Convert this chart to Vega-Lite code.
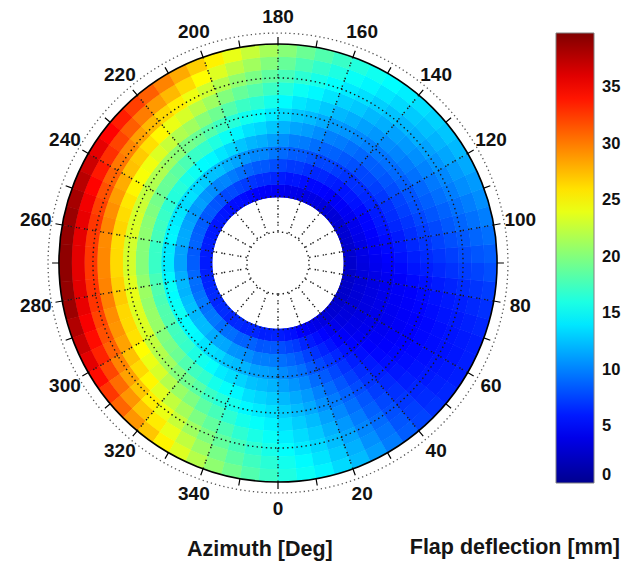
{
  "$schema": "https://vega.github.io/schema/vega-lite/v6.json",
  "width": 556,
  "height": 526,
  "autosize": {"type": "none"},
  "padding": {"left": 0, "top": 0, "right": 76, "bottom": 37},
  "background": "white",
  "title": {"text": "Azimuth [Deg]", "orient": "top", "anchor": "start", "frame": "group", "dx": 187, "offset": -577, "baseline": "alphabetic", "font": "Liberation Sans", "fontSize": 21.5, "fontWeight": "bold", "color": "#151515"},
  "resolve": {"scale": {"theta": "shared", "radius": "shared"}},
  "datasets": {
    "cells": [
{"a":2.5,"r":39.5,"v":6.0},{"a":2.5,"r":46.5,"v":8.0},{"a":2.5,"r":53.5,"v":9.3},{"a":2.5,"r":60.5,"v":10.4},{"a":2.5,"r":67.5,"v":11.3},{"a":2.5,"r":74.5,"v":12.2},{"a":2.5,"r":81.5,"v":13.0},{"a":2.5,"r":88.5,"v":13.7},{"a":2.5,"r":95.5,"v":14.3},{"a":2.5,"r":102.5,"v":15.0},{"a":2.5,"r":109.5,"v":15.6},{"a":2.5,"r":116.5,"v":16.1},
{"a":7.5,"r":39.5,"v":5.7},{"a":7.5,"r":46.5,"v":7.6},{"a":7.5,"r":53.5,"v":8.9},{"a":7.5,"r":60.5,"v":9.9},{"a":7.5,"r":67.5,"v":10.8},{"a":7.5,"r":74.5,"v":11.6},{"a":7.5,"r":81.5,"v":12.3},{"a":7.5,"r":88.5,"v":13.0},{"a":7.5,"r":95.5,"v":13.6},{"a":7.5,"r":102.5,"v":14.2},{"a":7.5,"r":109.5,"v":14.8},{"a":7.5,"r":116.5,"v":15.3},
{"a":12.5,"r":39.5,"v":5.5},{"a":12.5,"r":46.5,"v":7.2},{"a":12.5,"r":53.5,"v":8.4},{"a":12.5,"r":60.5,"v":9.4},{"a":12.5,"r":67.5,"v":10.2},{"a":12.5,"r":74.5,"v":11.0},{"a":12.5,"r":81.5,"v":11.6},{"a":12.5,"r":88.5,"v":12.3},{"a":12.5,"r":95.5,"v":12.9},{"a":12.5,"r":102.5,"v":13.4},{"a":12.5,"r":109.5,"v":13.9},{"a":12.5,"r":116.5,"v":14.5},
{"a":17.5,"r":39.5,"v":4.9},{"a":17.5,"r":46.5,"v":6.4},{"a":17.5,"r":53.5,"v":7.5},{"a":17.5,"r":60.5,"v":8.4},{"a":17.5,"r":67.5,"v":9.2},{"a":17.5,"r":74.5,"v":10.0},{"a":17.5,"r":81.5,"v":10.6},{"a":17.5,"r":88.5,"v":11.3},{"a":17.5,"r":95.5,"v":11.9},{"a":17.5,"r":102.5,"v":12.4},{"a":17.5,"r":109.5,"v":12.9},{"a":17.5,"r":116.5,"v":13.5},
{"a":22.5,"r":39.5,"v":4.6},{"a":22.5,"r":46.5,"v":6.0},{"a":22.5,"r":53.5,"v":6.9},{"a":22.5,"r":60.5,"v":7.8},{"a":22.5,"r":67.5,"v":8.5},{"a":22.5,"r":74.5,"v":9.2},{"a":22.5,"r":81.5,"v":9.8},{"a":22.5,"r":88.5,"v":10.3},{"a":22.5,"r":95.5,"v":10.9},{"a":22.5,"r":102.5,"v":11.4},{"a":22.5,"r":109.5,"v":11.9},{"a":22.5,"r":116.5,"v":12.3},
{"a":27.5,"r":39.5,"v":4.2},{"a":27.5,"r":46.5,"v":5.5},{"a":27.5,"r":53.5,"v":6.3},{"a":27.5,"r":60.5,"v":7.1},{"a":27.5,"r":67.5,"v":7.7},{"a":27.5,"r":74.5,"v":8.3},{"a":27.5,"r":81.5,"v":8.8},{"a":27.5,"r":88.5,"v":9.3},{"a":27.5,"r":95.5,"v":9.8},{"a":27.5,"r":102.5,"v":10.2},{"a":27.5,"r":109.5,"v":10.6},{"a":27.5,"r":116.5,"v":11.1},
{"a":32.5,"r":39.5,"v":3.9},{"a":32.5,"r":46.5,"v":5.0},{"a":32.5,"r":53.5,"v":5.7},{"a":32.5,"r":60.5,"v":6.4},{"a":32.5,"r":67.5,"v":6.9},{"a":32.5,"r":74.5,"v":7.4},{"a":32.5,"r":81.5,"v":7.9},{"a":32.5,"r":88.5,"v":8.3},{"a":32.5,"r":95.5,"v":8.7},{"a":32.5,"r":102.5,"v":9.1},{"a":32.5,"r":109.5,"v":9.5},{"a":32.5,"r":116.5,"v":9.8},
{"a":37.5,"r":39.5,"v":3.6},{"a":37.5,"r":46.5,"v":4.5},{"a":37.5,"r":53.5,"v":5.1},{"a":37.5,"r":60.5,"v":5.7},{"a":37.5,"r":67.5,"v":6.1},{"a":37.5,"r":74.5,"v":6.6},{"a":37.5,"r":81.5,"v":7.0},{"a":37.5,"r":88.5,"v":7.3},{"a":37.5,"r":95.5,"v":7.7},{"a":37.5,"r":102.5,"v":8.0},{"a":37.5,"r":109.5,"v":8.3},{"a":37.5,"r":116.5,"v":8.6},
{"a":42.5,"r":39.5,"v":3.3},{"a":42.5,"r":46.5,"v":4.1},{"a":42.5,"r":53.5,"v":4.7},{"a":42.5,"r":60.5,"v":5.1},{"a":42.5,"r":67.5,"v":5.5},{"a":42.5,"r":74.5,"v":5.9},{"a":42.5,"r":81.5,"v":6.2},{"a":42.5,"r":88.5,"v":6.5},{"a":42.5,"r":95.5,"v":6.8},{"a":42.5,"r":102.5,"v":7.1},{"a":42.5,"r":109.5,"v":7.4},{"a":42.5,"r":116.5,"v":7.6},
{"a":47.5,"r":39.5,"v":3.0},{"a":47.5,"r":46.5,"v":3.6},{"a":47.5,"r":53.5,"v":4.1},{"a":47.5,"r":60.5,"v":4.5},{"a":47.5,"r":67.5,"v":4.9},{"a":47.5,"r":74.5,"v":5.2},{"a":47.5,"r":81.5,"v":5.5},{"a":47.5,"r":88.5,"v":5.8},{"a":47.5,"r":95.5,"v":6.1},{"a":47.5,"r":102.5,"v":6.4},{"a":47.5,"r":109.5,"v":6.6},{"a":47.5,"r":116.5,"v":6.9},
{"a":52.5,"r":39.5,"v":2.9},{"a":52.5,"r":46.5,"v":3.4},{"a":52.5,"r":53.5,"v":3.9},{"a":52.5,"r":60.5,"v":4.2},{"a":52.5,"r":67.5,"v":4.6},{"a":52.5,"r":74.5,"v":4.9},{"a":52.5,"r":81.5,"v":5.2},{"a":52.5,"r":88.5,"v":5.4},{"a":52.5,"r":95.5,"v":5.7},{"a":52.5,"r":102.5,"v":5.9},{"a":52.5,"r":109.5,"v":6.2},{"a":52.5,"r":116.5,"v":6.4},
{"a":57.5,"r":39.5,"v":2.7},{"a":57.5,"r":46.5,"v":3.3},{"a":57.5,"r":53.5,"v":3.7},{"a":57.5,"r":60.5,"v":4.1},{"a":57.5,"r":67.5,"v":4.4},{"a":57.5,"r":74.5,"v":4.7},{"a":57.5,"r":81.5,"v":5.0},{"a":57.5,"r":88.5,"v":5.2},{"a":57.5,"r":95.5,"v":5.5},{"a":57.5,"r":102.5,"v":5.7},{"a":57.5,"r":109.5,"v":5.9},{"a":57.5,"r":116.5,"v":6.1},
{"a":62.5,"r":39.5,"v":2.7},{"a":62.5,"r":46.5,"v":3.2},{"a":62.5,"r":53.5,"v":3.7},{"a":62.5,"r":60.5,"v":4.0},{"a":62.5,"r":67.5,"v":4.3},{"a":62.5,"r":74.5,"v":4.6},{"a":62.5,"r":81.5,"v":4.9},{"a":62.5,"r":88.5,"v":5.2},{"a":62.5,"r":95.5,"v":5.4},{"a":62.5,"r":102.5,"v":5.6},{"a":62.5,"r":109.5,"v":5.8},{"a":62.5,"r":116.5,"v":6.1},
{"a":67.5,"r":39.5,"v":2.6},{"a":67.5,"r":46.5,"v":3.2},{"a":67.5,"r":53.5,"v":3.7},{"a":67.5,"r":60.5,"v":4.0},{"a":67.5,"r":67.5,"v":4.4},{"a":67.5,"r":74.5,"v":4.7},{"a":67.5,"r":81.5,"v":4.9},{"a":67.5,"r":88.5,"v":5.2},{"a":67.5,"r":95.5,"v":5.5},{"a":67.5,"r":102.5,"v":5.7},{"a":67.5,"r":109.5,"v":5.9},{"a":67.5,"r":116.5,"v":6.1},
{"a":72.5,"r":39.5,"v":2.6},{"a":72.5,"r":46.5,"v":3.3},{"a":72.5,"r":53.5,"v":3.7},{"a":72.5,"r":60.5,"v":4.1},{"a":72.5,"r":67.5,"v":4.5},{"a":72.5,"r":74.5,"v":4.8},{"a":72.5,"r":81.5,"v":5.1},{"a":72.5,"r":88.5,"v":5.4},{"a":72.5,"r":95.5,"v":5.7},{"a":72.5,"r":102.5,"v":5.9},{"a":72.5,"r":109.5,"v":6.2},{"a":72.5,"r":116.5,"v":6.4},
{"a":77.5,"r":39.5,"v":2.6},{"a":77.5,"r":46.5,"v":3.2},{"a":77.5,"r":53.5,"v":3.7},{"a":77.5,"r":60.5,"v":4.2},{"a":77.5,"r":67.5,"v":4.6},{"a":77.5,"r":74.5,"v":4.9},{"a":77.5,"r":81.5,"v":5.3},{"a":77.5,"r":88.5,"v":5.6},{"a":77.5,"r":95.5,"v":5.9},{"a":77.5,"r":102.5,"v":6.2},{"a":77.5,"r":109.5,"v":6.5},{"a":77.5,"r":116.5,"v":6.8},
{"a":82.5,"r":39.5,"v":2.6},{"a":82.5,"r":46.5,"v":3.4},{"a":82.5,"r":53.5,"v":3.9},{"a":82.5,"r":60.5,"v":4.4},{"a":82.5,"r":67.5,"v":4.8},{"a":82.5,"r":74.5,"v":5.3},{"a":82.5,"r":81.5,"v":5.6},{"a":82.5,"r":88.5,"v":6.0},{"a":82.5,"r":95.5,"v":6.3},{"a":82.5,"r":102.5,"v":6.7},{"a":82.5,"r":109.5,"v":7.0},{"a":82.5,"r":116.5,"v":7.3},
{"a":87.5,"r":39.5,"v":2.7},{"a":87.5,"r":46.5,"v":3.5},{"a":87.5,"r":53.5,"v":4.2},{"a":87.5,"r":60.5,"v":4.7},{"a":87.5,"r":67.5,"v":5.2},{"a":87.5,"r":74.5,"v":5.7},{"a":87.5,"r":81.5,"v":6.1},{"a":87.5,"r":88.5,"v":6.5},{"a":87.5,"r":95.5,"v":6.9},{"a":87.5,"r":102.5,"v":7.3},{"a":87.5,"r":109.5,"v":7.6},{"a":87.5,"r":116.5,"v":8.0},
{"a":92.5,"r":39.5,"v":2.8},{"a":92.5,"r":46.5,"v":3.7},{"a":92.5,"r":53.5,"v":4.4},{"a":92.5,"r":60.5,"v":5.0},{"a":92.5,"r":67.5,"v":5.6},{"a":92.5,"r":74.5,"v":6.1},{"a":92.5,"r":81.5,"v":6.6},{"a":92.5,"r":88.5,"v":7.0},{"a":92.5,"r":95.5,"v":7.4},{"a":92.5,"r":102.5,"v":7.9},{"a":92.5,"r":109.5,"v":8.3},{"a":92.5,"r":116.5,"v":8.6},
{"a":97.5,"r":39.5,"v":2.9},{"a":97.5,"r":46.5,"v":3.9},{"a":97.5,"r":53.5,"v":4.7},{"a":97.5,"r":60.5,"v":5.3},{"a":97.5,"r":67.5,"v":5.9},{"a":97.5,"r":74.5,"v":6.5},{"a":97.5,"r":81.5,"v":7.0},{"a":97.5,"r":88.5,"v":7.5},{"a":97.5,"r":95.5,"v":8.0},{"a":97.5,"r":102.5,"v":8.4},{"a":97.5,"r":109.5,"v":8.9},{"a":97.5,"r":116.5,"v":9.3},
{"a":102.5,"r":39.5,"v":2.8},{"a":102.5,"r":46.5,"v":3.8},{"a":102.5,"r":53.5,"v":4.7},{"a":102.5,"r":60.5,"v":5.4},{"a":102.5,"r":67.5,"v":6.0},{"a":102.5,"r":74.5,"v":6.7},{"a":102.5,"r":81.5,"v":7.3},{"a":102.5,"r":88.5,"v":7.8},{"a":102.5,"r":95.5,"v":8.4},{"a":102.5,"r":102.5,"v":8.9},{"a":102.5,"r":109.5,"v":9.4},{"a":102.5,"r":116.5,"v":9.9},
{"a":107.5,"r":39.5,"v":2.9},{"a":107.5,"r":46.5,"v":4.0},{"a":107.5,"r":53.5,"v":4.9},{"a":107.5,"r":60.5,"v":5.7},{"a":107.5,"r":67.5,"v":6.4},{"a":107.5,"r":74.5,"v":7.0},{"a":107.5,"r":81.5,"v":7.7},{"a":107.5,"r":88.5,"v":8.3},{"a":107.5,"r":95.5,"v":8.8},{"a":107.5,"r":102.5,"v":9.4},{"a":107.5,"r":109.5,"v":9.9},{"a":107.5,"r":116.5,"v":10.5},
{"a":112.5,"r":39.5,"v":3.0},{"a":112.5,"r":46.5,"v":4.2},{"a":112.5,"r":53.5,"v":5.1},{"a":112.5,"r":60.5,"v":5.9},{"a":112.5,"r":67.5,"v":6.7},{"a":112.5,"r":74.5,"v":7.4},{"a":112.5,"r":81.5,"v":8.1},{"a":112.5,"r":88.5,"v":8.7},{"a":112.5,"r":95.5,"v":9.3},{"a":112.5,"r":102.5,"v":9.9},{"a":112.5,"r":109.5,"v":10.5},{"a":112.5,"r":116.5,"v":11.0},
{"a":117.5,"r":39.5,"v":3.0},{"a":117.5,"r":46.5,"v":4.2},{"a":117.5,"r":53.5,"v":5.1},{"a":117.5,"r":60.5,"v":6.0},{"a":117.5,"r":67.5,"v":6.8},{"a":117.5,"r":74.5,"v":7.6},{"a":117.5,"r":81.5,"v":8.3},{"a":117.5,"r":88.5,"v":9.0},{"a":117.5,"r":95.5,"v":9.7},{"a":117.5,"r":102.5,"v":10.3},{"a":117.5,"r":109.5,"v":11.0},{"a":117.5,"r":116.5,"v":11.6},
{"a":122.5,"r":39.5,"v":3.1},{"a":122.5,"r":46.5,"v":4.3},{"a":122.5,"r":53.5,"v":5.3},{"a":122.5,"r":60.5,"v":6.3},{"a":122.5,"r":67.5,"v":7.1},{"a":122.5,"r":74.5,"v":7.9},{"a":122.5,"r":81.5,"v":8.7},{"a":122.5,"r":88.5,"v":9.4},{"a":122.5,"r":95.5,"v":10.1},{"a":122.5,"r":102.5,"v":10.8},{"a":122.5,"r":109.5,"v":11.5},{"a":122.5,"r":116.5,"v":12.2},
{"a":127.5,"r":39.5,"v":3.2},{"a":127.5,"r":46.5,"v":4.5},{"a":127.5,"r":53.5,"v":5.6},{"a":127.5,"r":60.5,"v":6.5},{"a":127.5,"r":67.5,"v":7.4},{"a":127.5,"r":74.5,"v":8.3},{"a":127.5,"r":81.5,"v":9.1},{"a":127.5,"r":88.5,"v":9.8},{"a":127.5,"r":95.5,"v":10.6},{"a":127.5,"r":102.5,"v":11.3},{"a":127.5,"r":109.5,"v":12.0},{"a":127.5,"r":116.5,"v":12.7},
{"a":132.5,"r":39.5,"v":3.3},{"a":132.5,"r":46.5,"v":4.7},{"a":132.5,"r":53.5,"v":5.8},{"a":132.5,"r":60.5,"v":6.8},{"a":132.5,"r":67.5,"v":7.7},{"a":132.5,"r":74.5,"v":8.6},{"a":132.5,"r":81.5,"v":9.4},{"a":132.5,"r":88.5,"v":10.2},{"a":132.5,"r":95.5,"v":11.0},{"a":132.5,"r":102.5,"v":11.8},{"a":132.5,"r":109.5,"v":12.5},{"a":132.5,"r":116.5,"v":13.2},
{"a":137.5,"r":39.5,"v":3.3},{"a":137.5,"r":46.5,"v":4.6},{"a":137.5,"r":53.5,"v":5.7},{"a":137.5,"r":60.5,"v":6.8},{"a":137.5,"r":67.5,"v":7.7},{"a":137.5,"r":74.5,"v":8.7},{"a":137.5,"r":81.5,"v":9.6},{"a":137.5,"r":88.5,"v":10.5},{"a":137.5,"r":95.5,"v":11.3},{"a":137.5,"r":102.5,"v":12.1},{"a":137.5,"r":109.5,"v":12.9},{"a":137.5,"r":116.5,"v":13.7},
{"a":142.5,"r":39.5,"v":3.5},{"a":142.5,"r":46.5,"v":4.8},{"a":142.5,"r":53.5,"v":6.0},{"a":142.5,"r":60.5,"v":7.0},{"a":142.5,"r":67.5,"v":8.1},{"a":142.5,"r":74.5,"v":9.0},{"a":142.5,"r":81.5,"v":10.0},{"a":142.5,"r":88.5,"v":10.9},{"a":142.5,"r":95.5,"v":11.8},{"a":142.5,"r":102.5,"v":12.6},{"a":142.5,"r":109.5,"v":13.5},{"a":142.5,"r":116.5,"v":14.3},
{"a":147.5,"r":39.5,"v":3.6},{"a":147.5,"r":46.5,"v":5.0},{"a":147.5,"r":53.5,"v":6.2},{"a":147.5,"r":60.5,"v":7.3},{"a":147.5,"r":67.5,"v":8.4},{"a":147.5,"r":74.5,"v":9.4},{"a":147.5,"r":81.5,"v":10.4},{"a":147.5,"r":88.5,"v":11.3},{"a":147.5,"r":95.5,"v":12.2},{"a":147.5,"r":102.5,"v":13.1},{"a":147.5,"r":109.5,"v":14.0},{"a":147.5,"r":116.5,"v":14.9},
{"a":152.5,"r":39.5,"v":3.8},{"a":152.5,"r":46.5,"v":5.2},{"a":152.5,"r":53.5,"v":6.5},{"a":152.5,"r":60.5,"v":7.7},{"a":152.5,"r":67.5,"v":8.8},{"a":152.5,"r":74.5,"v":9.8},{"a":152.5,"r":81.5,"v":10.8},{"a":152.5,"r":88.5,"v":11.8},{"a":152.5,"r":95.5,"v":12.8},{"a":152.5,"r":102.5,"v":13.7},{"a":152.5,"r":109.5,"v":14.6},{"a":152.5,"r":116.5,"v":15.5},
{"a":157.5,"r":39.5,"v":3.8},{"a":157.5,"r":46.5,"v":5.2},{"a":157.5,"r":53.5,"v":6.5},{"a":157.5,"r":60.5,"v":7.7},{"a":157.5,"r":67.5,"v":8.9},{"a":157.5,"r":74.5,"v":10.0},{"a":157.5,"r":81.5,"v":11.1},{"a":157.5,"r":88.5,"v":12.2},{"a":157.5,"r":95.5,"v":13.2},{"a":157.5,"r":102.5,"v":14.2},{"a":157.5,"r":109.5,"v":15.2},{"a":157.5,"r":116.5,"v":16.2},
{"a":162.5,"r":39.5,"v":3.9},{"a":162.5,"r":46.5,"v":5.5},{"a":162.5,"r":53.5,"v":6.8},{"a":162.5,"r":60.5,"v":8.1},{"a":162.5,"r":67.5,"v":9.3},{"a":162.5,"r":74.5,"v":10.5},{"a":162.5,"r":81.5,"v":11.7},{"a":162.5,"r":88.5,"v":12.8},{"a":162.5,"r":95.5,"v":13.9},{"a":162.5,"r":102.5,"v":15.0},{"a":162.5,"r":109.5,"v":16.0},{"a":162.5,"r":116.5,"v":17.1},
{"a":167.5,"r":39.5,"v":4.1},{"a":167.5,"r":46.5,"v":5.8},{"a":167.5,"r":53.5,"v":7.2},{"a":167.5,"r":60.5,"v":8.5},{"a":167.5,"r":67.5,"v":9.8},{"a":167.5,"r":74.5,"v":11.1},{"a":167.5,"r":81.5,"v":12.3},{"a":167.5,"r":88.5,"v":13.5},{"a":167.5,"r":95.5,"v":14.7},{"a":167.5,"r":102.5,"v":15.8},{"a":167.5,"r":109.5,"v":16.9},{"a":167.5,"r":116.5,"v":18.1},
{"a":172.5,"r":39.5,"v":4.1},{"a":172.5,"r":46.5,"v":5.7},{"a":172.5,"r":53.5,"v":7.2},{"a":172.5,"r":60.5,"v":8.6},{"a":172.5,"r":67.5,"v":10.0},{"a":172.5,"r":74.5,"v":11.4},{"a":172.5,"r":81.5,"v":12.7},{"a":172.5,"r":88.5,"v":14.0},{"a":172.5,"r":95.5,"v":15.3},{"a":172.5,"r":102.5,"v":16.6},{"a":172.5,"r":109.5,"v":17.8},{"a":172.5,"r":116.5,"v":19.1},
{"a":177.5,"r":39.5,"v":4.3},{"a":177.5,"r":46.5,"v":6.0},{"a":177.5,"r":53.5,"v":7.6},{"a":177.5,"r":60.5,"v":9.1},{"a":177.5,"r":67.5,"v":10.6},{"a":177.5,"r":74.5,"v":12.0},{"a":177.5,"r":81.5,"v":13.5},{"a":177.5,"r":88.5,"v":14.8},{"a":177.5,"r":95.5,"v":16.2},{"a":177.5,"r":102.5,"v":17.6},{"a":177.5,"r":109.5,"v":18.9},{"a":177.5,"r":116.5,"v":20.2},
{"a":182.5,"r":39.5,"v":4.5},{"a":182.5,"r":46.5,"v":6.4},{"a":182.5,"r":53.5,"v":8.0},{"a":182.5,"r":60.5,"v":9.6},{"a":182.5,"r":67.5,"v":11.2},{"a":182.5,"r":74.5,"v":12.7},{"a":182.5,"r":81.5,"v":14.2},{"a":182.5,"r":88.5,"v":15.7},{"a":182.5,"r":95.5,"v":17.2},{"a":182.5,"r":102.5,"v":18.6},{"a":182.5,"r":109.5,"v":20.0},{"a":182.5,"r":116.5,"v":21.4},
{"a":187.5,"r":39.5,"v":4.7},{"a":187.5,"r":46.5,"v":6.7},{"a":187.5,"r":53.5,"v":8.4},{"a":187.5,"r":60.5,"v":10.2},{"a":187.5,"r":67.5,"v":11.8},{"a":187.5,"r":74.5,"v":13.4},{"a":187.5,"r":81.5,"v":15.0},{"a":187.5,"r":88.5,"v":16.6},{"a":187.5,"r":95.5,"v":18.2},{"a":187.5,"r":102.5,"v":19.7},{"a":187.5,"r":109.5,"v":21.2},{"a":187.5,"r":116.5,"v":22.7},
{"a":192.5,"r":39.5,"v":4.8},{"a":192.5,"r":46.5,"v":6.7},{"a":192.5,"r":53.5,"v":8.5},{"a":192.5,"r":60.5,"v":10.3},{"a":192.5,"r":67.5,"v":12.1},{"a":192.5,"r":74.5,"v":13.8},{"a":192.5,"r":81.5,"v":15.5},{"a":192.5,"r":88.5,"v":17.2},{"a":192.5,"r":95.5,"v":18.9},{"a":192.5,"r":102.5,"v":20.6},{"a":192.5,"r":109.5,"v":22.3},{"a":192.5,"r":116.5,"v":24.0},
{"a":197.5,"r":39.5,"v":5.0},{"a":197.5,"r":46.5,"v":7.0},{"a":197.5,"r":53.5,"v":8.9},{"a":197.5,"r":60.5,"v":10.8},{"a":197.5,"r":67.5,"v":12.7},{"a":197.5,"r":74.5,"v":14.6},{"a":197.5,"r":81.5,"v":16.4},{"a":197.5,"r":88.5,"v":18.2},{"a":197.5,"r":95.5,"v":20.0},{"a":197.5,"r":102.5,"v":21.8},{"a":197.5,"r":109.5,"v":23.6},{"a":197.5,"r":116.5,"v":25.4},
{"a":202.5,"r":39.5,"v":5.2},{"a":202.5,"r":46.5,"v":7.3},{"a":202.5,"r":53.5,"v":9.3},{"a":202.5,"r":60.5,"v":11.4},{"a":202.5,"r":67.5,"v":13.4},{"a":202.5,"r":74.5,"v":15.3},{"a":202.5,"r":81.5,"v":17.3},{"a":202.5,"r":88.5,"v":19.2},{"a":202.5,"r":95.5,"v":21.1},{"a":202.5,"r":102.5,"v":23.0},{"a":202.5,"r":109.5,"v":24.9},{"a":202.5,"r":116.5,"v":26.8},
{"a":207.5,"r":39.5,"v":5.4},{"a":207.5,"r":46.5,"v":7.6},{"a":207.5,"r":53.5,"v":9.8},{"a":207.5,"r":60.5,"v":11.9},{"a":207.5,"r":67.5,"v":14.0},{"a":207.5,"r":74.5,"v":16.1},{"a":207.5,"r":81.5,"v":18.2},{"a":207.5,"r":88.5,"v":20.2},{"a":207.5,"r":95.5,"v":22.2},{"a":207.5,"r":102.5,"v":24.2},{"a":207.5,"r":109.5,"v":26.3},{"a":207.5,"r":116.5,"v":28.2},
{"a":212.5,"r":39.5,"v":5.5},{"a":212.5,"r":46.5,"v":7.9},{"a":212.5,"r":53.5,"v":10.2},{"a":212.5,"r":60.5,"v":12.5},{"a":212.5,"r":67.5,"v":14.7},{"a":212.5,"r":74.5,"v":16.9},{"a":212.5,"r":81.5,"v":19.1},{"a":212.5,"r":88.5,"v":21.2},{"a":212.5,"r":95.5,"v":23.3},{"a":212.5,"r":102.5,"v":25.5},{"a":212.5,"r":109.5,"v":27.6},{"a":212.5,"r":116.5,"v":29.7},
{"a":217.5,"r":39.5,"v":5.5},{"a":217.5,"r":46.5,"v":7.8},{"a":217.5,"r":53.5,"v":10.1},{"a":217.5,"r":60.5,"v":12.5},{"a":217.5,"r":67.5,"v":14.8},{"a":217.5,"r":74.5,"v":17.1},{"a":217.5,"r":81.5,"v":19.5},{"a":217.5,"r":88.5,"v":21.8},{"a":217.5,"r":95.5,"v":24.1},{"a":217.5,"r":102.5,"v":26.4},{"a":217.5,"r":109.5,"v":28.8},{"a":217.5,"r":116.5,"v":31.1},
{"a":222.5,"r":39.5,"v":5.6},{"a":222.5,"r":46.5,"v":8.1},{"a":222.5,"r":53.5,"v":10.5},{"a":222.5,"r":60.5,"v":13.0},{"a":222.5,"r":67.5,"v":15.4},{"a":222.5,"r":74.5,"v":17.8},{"a":222.5,"r":81.5,"v":20.3},{"a":222.5,"r":88.5,"v":22.7},{"a":222.5,"r":95.5,"v":25.1},{"a":222.5,"r":102.5,"v":27.6},{"a":222.5,"r":109.5,"v":30.0},{"a":222.5,"r":116.5,"v":32.4},
{"a":227.5,"r":39.5,"v":5.8},{"a":227.5,"r":46.5,"v":8.3},{"a":227.5,"r":53.5,"v":10.8},{"a":227.5,"r":60.5,"v":13.4},{"a":227.5,"r":67.5,"v":15.9},{"a":227.5,"r":74.5,"v":18.5},{"a":227.5,"r":81.5,"v":21.0},{"a":227.5,"r":88.5,"v":23.5},{"a":227.5,"r":95.5,"v":26.1},{"a":227.5,"r":102.5,"v":28.6},{"a":227.5,"r":109.5,"v":31.2},{"a":227.5,"r":116.5,"v":33.7},
{"a":232.5,"r":39.5,"v":5.9},{"a":232.5,"r":46.5,"v":8.5},{"a":232.5,"r":53.5,"v":11.2},{"a":232.5,"r":60.5,"v":13.8},{"a":232.5,"r":67.5,"v":16.4},{"a":232.5,"r":74.5,"v":19.0},{"a":232.5,"r":81.5,"v":21.7},{"a":232.5,"r":88.5,"v":24.3},{"a":232.5,"r":95.5,"v":26.9},{"a":232.5,"r":102.5,"v":29.6},{"a":232.5,"r":109.5,"v":32.2},{"a":232.5,"r":116.5,"v":34.8},
{"a":237.5,"r":39.5,"v":5.8},{"a":237.5,"r":46.5,"v":8.4},{"a":237.5,"r":53.5,"v":11.0},{"a":237.5,"r":60.5,"v":13.6},{"a":237.5,"r":67.5,"v":16.3},{"a":237.5,"r":74.5,"v":19.0},{"a":237.5,"r":81.5,"v":21.8},{"a":237.5,"r":88.5,"v":24.6},{"a":237.5,"r":95.5,"v":27.3},{"a":237.5,"r":102.5,"v":30.2},{"a":237.5,"r":109.5,"v":33.0},{"a":237.5,"r":116.5,"v":35.8},
{"a":242.5,"r":39.5,"v":5.9},{"a":242.5,"r":46.5,"v":8.6},{"a":242.5,"r":53.5,"v":11.2},{"a":242.5,"r":60.5,"v":14.0},{"a":242.5,"r":67.5,"v":16.7},{"a":242.5,"r":74.5,"v":19.5},{"a":242.5,"r":81.5,"v":22.4},{"a":242.5,"r":88.5,"v":25.2},{"a":242.5,"r":95.5,"v":28.1},{"a":242.5,"r":102.5,"v":31.0},{"a":242.5,"r":109.5,"v":33.9},{"a":242.5,"r":116.5,"v":36.8},
{"a":247.5,"r":39.5,"v":6.0},{"a":247.5,"r":46.5,"v":8.7},{"a":247.5,"r":53.5,"v":11.4},{"a":247.5,"r":60.5,"v":14.2},{"a":247.5,"r":67.5,"v":17.1},{"a":247.5,"r":74.5,"v":19.9},{"a":247.5,"r":81.5,"v":22.9},{"a":247.5,"r":88.5,"v":25.8},{"a":247.5,"r":95.5,"v":28.7},{"a":247.5,"r":102.5,"v":31.7},{"a":247.5,"r":109.5,"v":34.7},{"a":247.5,"r":116.5,"v":37.6},
{"a":252.5,"r":39.5,"v":6.1},{"a":252.5,"r":46.5,"v":8.8},{"a":252.5,"r":53.5,"v":11.6},{"a":252.5,"r":60.5,"v":14.5},{"a":252.5,"r":67.5,"v":17.4},{"a":252.5,"r":74.5,"v":20.3},{"a":252.5,"r":81.5,"v":23.3},{"a":252.5,"r":88.5,"v":26.2},{"a":252.5,"r":95.5,"v":29.2},{"a":252.5,"r":102.5,"v":32.3},{"a":252.5,"r":109.5,"v":35.3},{"a":252.5,"r":116.5,"v":38.3},
{"a":257.5,"r":39.5,"v":6.1},{"a":257.5,"r":46.5,"v":8.9},{"a":257.5,"r":53.5,"v":11.7},{"a":257.5,"r":60.5,"v":14.6},{"a":257.5,"r":67.5,"v":17.6},{"a":257.5,"r":74.5,"v":20.5},{"a":257.5,"r":81.5,"v":23.5},{"a":257.5,"r":88.5,"v":26.5},{"a":257.5,"r":95.5,"v":29.6},{"a":257.5,"r":102.5,"v":32.7},{"a":257.5,"r":109.5,"v":35.7},{"a":257.5,"r":116.5,"v":38.8},
{"a":262.5,"r":39.5,"v":6.0},{"a":262.5,"r":46.5,"v":8.5},{"a":262.5,"r":53.5,"v":11.3},{"a":262.5,"r":60.5,"v":14.1},{"a":262.5,"r":67.5,"v":17.1},{"a":262.5,"r":74.5,"v":20.1},{"a":262.5,"r":81.5,"v":23.1},{"a":262.5,"r":88.5,"v":26.2},{"a":262.5,"r":95.5,"v":29.4},{"a":262.5,"r":102.5,"v":32.6},{"a":262.5,"r":109.5,"v":35.8},{"a":262.5,"r":116.5,"v":39.0},
{"a":267.5,"r":39.5,"v":6.0},{"a":267.5,"r":46.5,"v":8.6},{"a":267.5,"r":53.5,"v":11.3},{"a":267.5,"r":60.5,"v":14.2},{"a":267.5,"r":67.5,"v":17.1},{"a":267.5,"r":74.5,"v":20.1},{"a":267.5,"r":81.5,"v":23.2},{"a":267.5,"r":88.5,"v":26.3},{"a":267.5,"r":95.5,"v":29.5},{"a":267.5,"r":102.5,"v":32.7},{"a":267.5,"r":109.5,"v":35.9},{"a":267.5,"r":116.5,"v":39.2},
{"a":272.5,"r":39.5,"v":6.0},{"a":272.5,"r":46.5,"v":8.6},{"a":272.5,"r":53.5,"v":11.3},{"a":272.5,"r":60.5,"v":14.2},{"a":272.5,"r":67.5,"v":17.1},{"a":272.5,"r":74.5,"v":20.1},{"a":272.5,"r":81.5,"v":23.2},{"a":272.5,"r":88.5,"v":26.3},{"a":272.5,"r":95.5,"v":29.5},{"a":272.5,"r":102.5,"v":32.7},{"a":272.5,"r":109.5,"v":35.9},{"a":272.5,"r":116.5,"v":39.2},
{"a":277.5,"r":39.5,"v":6.2},{"a":277.5,"r":46.5,"v":9.0},{"a":277.5,"r":53.5,"v":11.8},{"a":277.5,"r":60.5,"v":14.7},{"a":277.5,"r":67.5,"v":17.7},{"a":277.5,"r":74.5,"v":20.6},{"a":277.5,"r":81.5,"v":23.7},{"a":277.5,"r":88.5,"v":26.7},{"a":277.5,"r":95.5,"v":29.7},{"a":277.5,"r":102.5,"v":32.9},{"a":277.5,"r":109.5,"v":35.9},{"a":277.5,"r":116.5,"v":39.0},
{"a":282.5,"r":39.5,"v":6.3},{"a":282.5,"r":46.5,"v":9.3},{"a":282.5,"r":53.5,"v":12.2},{"a":282.5,"r":60.5,"v":15.2},{"a":282.5,"r":67.5,"v":18.1},{"a":282.5,"r":74.5,"v":21.0},{"a":282.5,"r":81.5,"v":24.0},{"a":282.5,"r":88.5,"v":26.9},{"a":282.5,"r":95.5,"v":29.8},{"a":282.5,"r":102.5,"v":32.8},{"a":282.5,"r":109.5,"v":35.7},{"a":282.5,"r":116.5,"v":38.7},
{"a":287.5,"r":39.5,"v":6.3},{"a":287.5,"r":46.5,"v":9.2},{"a":287.5,"r":53.5,"v":12.0},{"a":287.5,"r":60.5,"v":14.9},{"a":287.5,"r":67.5,"v":17.8},{"a":287.5,"r":74.5,"v":20.7},{"a":287.5,"r":81.5,"v":23.6},{"a":287.5,"r":88.5,"v":26.4},{"a":287.5,"r":95.5,"v":29.3},{"a":287.5,"r":102.5,"v":32.2},{"a":287.5,"r":109.5,"v":35.1},{"a":287.5,"r":116.5,"v":37.9},
{"a":292.5,"r":39.5,"v":6.5},{"a":292.5,"r":46.5,"v":9.5},{"a":292.5,"r":53.5,"v":12.4},{"a":292.5,"r":60.5,"v":15.2},{"a":292.5,"r":67.5,"v":18.1},{"a":292.5,"r":74.5,"v":20.8},{"a":292.5,"r":81.5,"v":23.6},{"a":292.5,"r":88.5,"v":26.3},{"a":292.5,"r":95.5,"v":29.0},{"a":292.5,"r":102.5,"v":31.7},{"a":292.5,"r":109.5,"v":34.4},{"a":292.5,"r":116.5,"v":37.0},
{"a":297.5,"r":39.5,"v":6.6},{"a":297.5,"r":46.5,"v":9.7},{"a":297.5,"r":53.5,"v":12.6},{"a":297.5,"r":60.5,"v":15.4},{"a":297.5,"r":67.5,"v":18.1},{"a":297.5,"r":74.5,"v":20.8},{"a":297.5,"r":81.5,"v":23.4},{"a":297.5,"r":88.5,"v":26.0},{"a":297.5,"r":95.5,"v":28.5},{"a":297.5,"r":102.5,"v":31.0},{"a":297.5,"r":109.5,"v":33.5},{"a":297.5,"r":116.5,"v":35.9},
{"a":302.5,"r":39.5,"v":6.4},{"a":302.5,"r":46.5,"v":9.4},{"a":302.5,"r":53.5,"v":12.2},{"a":302.5,"r":60.5,"v":14.9},{"a":302.5,"r":67.5,"v":17.5},{"a":302.5,"r":74.5,"v":20.0},{"a":302.5,"r":81.5,"v":22.5},{"a":302.5,"r":88.5,"v":24.9},{"a":302.5,"r":95.5,"v":27.3},{"a":302.5,"r":102.5,"v":29.7},{"a":302.5,"r":109.5,"v":32.1},{"a":302.5,"r":116.5,"v":34.4},
{"a":307.5,"r":39.5,"v":6.6},{"a":307.5,"r":46.5,"v":9.6},{"a":307.5,"r":53.5,"v":12.3},{"a":307.5,"r":60.5,"v":14.9},{"a":307.5,"r":67.5,"v":17.3},{"a":307.5,"r":74.5,"v":19.6},{"a":307.5,"r":81.5,"v":21.9},{"a":307.5,"r":88.5,"v":24.1},{"a":307.5,"r":95.5,"v":26.3},{"a":307.5,"r":102.5,"v":28.5},{"a":307.5,"r":109.5,"v":30.6},{"a":307.5,"r":116.5,"v":32.7},
{"a":312.5,"r":39.5,"v":6.7},{"a":312.5,"r":46.5,"v":9.7},{"a":312.5,"r":53.5,"v":12.3},{"a":312.5,"r":60.5,"v":14.7},{"a":312.5,"r":67.5,"v":17.0},{"a":312.5,"r":74.5,"v":19.1},{"a":312.5,"r":81.5,"v":21.2},{"a":312.5,"r":88.5,"v":23.3},{"a":312.5,"r":95.5,"v":25.2},{"a":312.5,"r":102.5,"v":27.1},{"a":312.5,"r":109.5,"v":29.0},{"a":312.5,"r":116.5,"v":30.9},
{"a":317.5,"r":39.5,"v":6.4},{"a":317.5,"r":46.5,"v":9.2},{"a":317.5,"r":53.5,"v":11.7},{"a":317.5,"r":60.5,"v":13.9},{"a":317.5,"r":67.5,"v":16.0},{"a":317.5,"r":74.5,"v":18.0},{"a":317.5,"r":81.5,"v":20.0},{"a":317.5,"r":88.5,"v":21.9},{"a":317.5,"r":95.5,"v":23.7},{"a":317.5,"r":102.5,"v":25.5},{"a":317.5,"r":109.5,"v":27.2},{"a":317.5,"r":116.5,"v":29.0},
{"a":322.5,"r":39.5,"v":6.5},{"a":322.5,"r":46.5,"v":9.3},{"a":322.5,"r":53.5,"v":11.6},{"a":322.5,"r":60.5,"v":13.7},{"a":322.5,"r":67.5,"v":15.6},{"a":322.5,"r":74.5,"v":17.4},{"a":322.5,"r":81.5,"v":19.2},{"a":322.5,"r":88.5,"v":20.9},{"a":322.5,"r":95.5,"v":22.5},{"a":322.5,"r":102.5,"v":24.1},{"a":322.5,"r":109.5,"v":25.6},{"a":322.5,"r":116.5,"v":27.1},
{"a":327.5,"r":39.5,"v":6.6},{"a":327.5,"r":46.5,"v":9.3},{"a":327.5,"r":53.5,"v":11.5},{"a":327.5,"r":60.5,"v":13.4},{"a":327.5,"r":67.5,"v":15.1},{"a":327.5,"r":74.5,"v":16.8},{"a":327.5,"r":81.5,"v":18.4},{"a":327.5,"r":88.5,"v":19.9},{"a":327.5,"r":95.5,"v":21.3},{"a":327.5,"r":102.5,"v":22.7},{"a":327.5,"r":109.5,"v":24.0},{"a":327.5,"r":116.5,"v":25.3},
{"a":332.5,"r":39.5,"v":6.3},{"a":332.5,"r":46.5,"v":8.8},{"a":332.5,"r":53.5,"v":10.8},{"a":332.5,"r":60.5,"v":12.6},{"a":332.5,"r":67.5,"v":14.2},{"a":332.5,"r":74.5,"v":15.7},{"a":332.5,"r":81.5,"v":17.2},{"a":332.5,"r":88.5,"v":18.5},{"a":332.5,"r":95.5,"v":19.8},{"a":332.5,"r":102.5,"v":21.1},{"a":332.5,"r":109.5,"v":22.4},{"a":332.5,"r":116.5,"v":23.6},
{"a":337.5,"r":39.5,"v":6.4},{"a":337.5,"r":46.5,"v":8.8},{"a":337.5,"r":53.5,"v":10.7},{"a":337.5,"r":60.5,"v":12.3},{"a":337.5,"r":67.5,"v":13.7},{"a":337.5,"r":74.5,"v":15.1},{"a":337.5,"r":81.5,"v":16.4},{"a":337.5,"r":88.5,"v":17.6},{"a":337.5,"r":95.5,"v":18.7},{"a":337.5,"r":102.5,"v":19.8},{"a":337.5,"r":109.5,"v":20.9},{"a":337.5,"r":116.5,"v":22.0},
{"a":342.5,"r":39.5,"v":6.4},{"a":342.5,"r":46.5,"v":8.8},{"a":342.5,"r":53.5,"v":10.5},{"a":342.5,"r":60.5,"v":12.0},{"a":342.5,"r":67.5,"v":13.3},{"a":342.5,"r":74.5,"v":14.6},{"a":342.5,"r":81.5,"v":15.7},{"a":342.5,"r":88.5,"v":16.7},{"a":342.5,"r":95.5,"v":17.8},{"a":342.5,"r":102.5,"v":18.7},{"a":342.5,"r":109.5,"v":19.6},{"a":342.5,"r":116.5,"v":20.5},
{"a":347.5,"r":39.5,"v":6.1},{"a":347.5,"r":46.5,"v":8.3},{"a":347.5,"r":53.5,"v":9.9},{"a":347.5,"r":60.5,"v":11.3},{"a":347.5,"r":67.5,"v":12.6},{"a":347.5,"r":74.5,"v":13.7},{"a":347.5,"r":81.5,"v":14.7},{"a":347.5,"r":88.5,"v":15.7},{"a":347.5,"r":95.5,"v":16.7},{"a":347.5,"r":102.5,"v":17.6},{"a":347.5,"r":109.5,"v":18.4},{"a":347.5,"r":116.5,"v":19.3},
{"a":352.5,"r":39.5,"v":6.2},{"a":352.5,"r":46.5,"v":8.4},{"a":352.5,"r":53.5,"v":9.9},{"a":352.5,"r":60.5,"v":11.2},{"a":352.5,"r":67.5,"v":12.3},{"a":352.5,"r":74.5,"v":13.3},{"a":352.5,"r":81.5,"v":14.2},{"a":352.5,"r":88.5,"v":15.1},{"a":352.5,"r":95.5,"v":15.9},{"a":352.5,"r":102.5,"v":16.7},{"a":352.5,"r":109.5,"v":17.4},{"a":352.5,"r":116.5,"v":18.1},
{"a":357.5,"r":39.5,"v":6.3},{"a":357.5,"r":46.5,"v":8.4},{"a":357.5,"r":53.5,"v":9.8},{"a":357.5,"r":60.5,"v":11.0},{"a":357.5,"r":67.5,"v":12.0},{"a":357.5,"r":74.5,"v":12.9},{"a":357.5,"r":81.5,"v":13.7},{"a":357.5,"r":88.5,"v":14.5},{"a":357.5,"r":95.5,"v":15.2},{"a":357.5,"r":102.5,"v":15.8},{"a":357.5,"r":109.5,"v":16.5},{"a":357.5,"r":116.5,"v":17.1}
    ],
    "rings": [{"rr": 17.0}, {"rr": 36.6}, {"rr": 62.4}, {"rr": 82.2}, {"rr": 101.4}],
    "spokes": [{"az":0},{"az":20},{"az":40},{"az":60},{"az":80},{"az":100},{"az":120},{"az":140},{"az":160},{"az":180},{"az":200},{"az":220},{"az":240},{"az":260},{"az":280},{"az":300},{"az":320},{"az":340}],
    "ticks": [{"az":0},{"az":10},{"az":20},{"az":30},{"az":40},{"az":50},{"az":60},{"az":70},{"az":80},{"az":90},{"az":100},{"az":110},{"az":120},{"az":130},{"az":140},{"az":150},{"az":160},{"az":170},{"az":180},{"az":190},{"az":200},{"az":210},{"az":220},{"az":230},{"az":240},{"az":250},{"az":260},{"az":270},{"az":280},{"az":290},{"az":300},{"az":310},{"az":320},{"az":330},{"az":340},{"az":350}]
  },
  "layer": [
    {
      "data": {"name": "cells"},
      "transform": [
        {"bin": {"step": 5, "extent": [0, 360], "nice": false}, "field": "a", "as": ["a0", "a1"]},
        {"bin": {"step": 7, "extent": [36, 120], "nice": false}, "field": "r", "as": ["r0", "r1"]}
      ],
      "mark": {"type": "arc"},
      "encoding": {
        "theta": {"field": "a0", "type": "quantitative", "stack": null, "scale": {"type": "linear", "domain": [0, 360], "range": [3.141592653589793, -3.141592653589793]}},
        "theta2": {"field": "a1"},
        "radius": {"field": "r1", "type": "quantitative", "stack": null, "scale": {"type": "linear", "domain": [0, 120], "range": [0, 219], "zero": true}},
        "radius2": {"field": "r0"},
        "color": {
          "field": "v", "type": "quantitative",
          "scale": {"type": "linear", "domain": [0, 4.975, 14.925, 24.875, 34.825, 39.8], "range": ["#00008f", "#0000ff", "#00ffff", "#ffff00", "#ff0000", "#800000"], "interpolate": "rgb", "clamp": true},
          "legend": {
            "type": "gradient", "orient": "none", "legendX": 410, "legendY": 33, "direction": "vertical",
            "gradientLength": 450, "gradientThickness": 38, "gradientStrokeColor": "#808080", "gradientStrokeWidth": 1,
            "values": [0, 5, 10, 15, 20, 25, 30, 35], "padding": 0,
            "labelFont": "Liberation Sans", "labelFontSize": 16.5, "labelFontWeight": "bold", "labelColor": "#111", "labelOffset": 8, "labelOverlap": false,
            "title": "Flap deflection [mm]", "titleOrient": "bottom", "titleAnchor": "end", "titleAlign": "right", "titleBaseline": "alphabetic", "titlePadding": 70, "titleLimit": 400,
            "titleFont": "Liberation Sans", "titleFontSize": 21.5, "titleFontWeight": "bold", "titleColor": "#151515"
          }
        }
      }
    },
    {
      "data": {"name": "cells"},
      "transform": [
        {"bin": {"step": 5, "extent": [0, 360], "nice": false}, "field": "a", "as": ["a0", "a1"]},
        {"bin": {"step": 7, "extent": [36, 120], "nice": false}, "field": "r", "as": ["r0", "r1"]}
      ],
      "mark": {"type": "arc"},
      "encoding": {
        "theta": {"field": "a0", "type": "quantitative", "stack": null},
        "theta2": {"field": "a1"},
        "radius": {"field": "r1", "type": "quantitative", "stack": null},
        "radius2": {"field": "r0"},
        "color": {"field": "v", "type": "quantitative"}
      }
    },
    {
      "data": {"name": "spokes"},
      "mark": {"type": "arc", "filled": false, "stroke": "#1a1a1a", "strokeWidth": 1.4, "strokeDash": [1.4, 6.8]},
      "encoding": {
        "theta": {"field": "az", "type": "quantitative", "stack": null, "scale": {"type": "linear", "domain": [0, 360], "range": [3.141592653589793, -3.141592653589793]}},
        "theta2": {"field": "az"},
        "radius": {"datum": 120, "type": "quantitative", "scale": {"type": "linear", "domain": [0, 120], "range": [0, 219], "zero": true}},
        "radius2": {"datum": 17.0}
      }
    },
    {
      "data": {"name": "rings"},
      "mark": {"type": "arc", "filled": false, "stroke": "#1a1a1a", "strokeWidth": 1.4, "strokeDash": [1.4, 3.2]},
      "encoding": {
        "theta": {"datum": 0, "type": "quantitative", "scale": {"type": "linear", "domain": [0, 360], "range": [3.141592653589793, -3.141592653589793]}},
        "theta2": {"datum": 360},
        "radius": {"field": "rr", "type": "quantitative", "stack": null, "scale": {"type": "linear", "domain": [0, 120], "range": [0, 219], "zero": true}}
      }
    },
    {
      "data": {"values": [{"edge": "outer"}]},
      "mark": {"type": "arc", "filled": false, "stroke": "#000000", "strokeWidth": 1.6},
      "encoding": {
        "theta": {"datum": 0, "type": "quantitative", "scale": {"type": "linear", "domain": [0, 360], "range": [3.141592653589793, -3.141592653589793]}},
        "theta2": {"datum": 360},
        "radius": {"datum": 120, "type": "quantitative", "scale": {"type": "linear", "domain": [0, 120], "range": [0, 219], "zero": true}}
      }
    },
    {
      "data": {"values": [{"edge": "frame"}]},
      "mark": {"type": "arc", "filled": false, "stroke": "#555555", "strokeWidth": 1.3, "strokeDash": [1.3, 3]},
      "encoding": {
        "theta": {"datum": 0, "type": "quantitative", "scale": {"type": "linear", "domain": [0, 360], "range": [3.141592653589793, -3.141592653589793]}},
        "theta2": {"datum": 360},
        "radius": {"datum": 126, "type": "quantitative", "scale": {"type": "linear", "domain": [0, 120], "range": [0, 219], "zero": true}}
      }
    },
    {
      "data": {"name": "ticks"},
      "mark": {"type": "arc", "filled": false, "stroke": "#000000", "strokeWidth": 1.2},
      "encoding": {
        "theta": {"field": "az", "type": "quantitative", "stack": null, "scale": {"type": "linear", "domain": [0, 360], "range": [3.141592653589793, -3.141592653589793]}},
        "theta2": {"field": "az"},
        "radius": {"datum": 123.8, "type": "quantitative", "scale": {"type": "linear", "domain": [0, 120], "range": [0, 219], "zero": true}},
        "radius2": {"datum": 120}
      }
    },
    {
      "data": {"name": "spokes"},
      "mark": {"type": "text", "font": "Liberation Sans", "fontSize": 19, "fontWeight": "bold", "color": "#111", "align": "center", "baseline": "middle"},
      "encoding": {
        "theta": {"field": "az", "type": "quantitative", "stack": null, "scale": {"type": "linear", "domain": [0, 360], "range": [3.141592653589793, -3.141592653589793]}},
        "radius": {"datum": 134.8, "type": "quantitative", "scale": {"type": "linear", "domain": [0, 120], "range": [0, 219], "zero": true}},
        "text": {"field": "az", "type": "quantitative"}
      }
    }
  ],
  "config": {"view": {"stroke": null}}
}
